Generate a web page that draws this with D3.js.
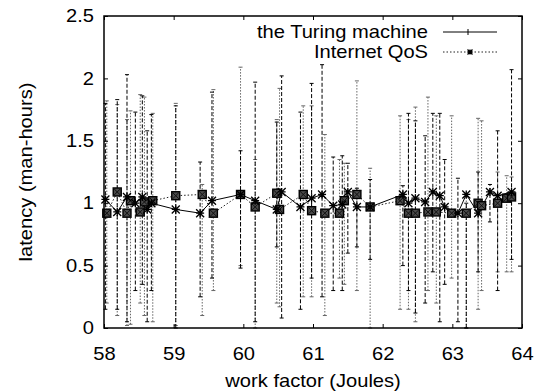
<!DOCTYPE html>
<meta charset="utf-8">
<style>
body { margin: 0; background: white; font-family: 'Liberation Sans', Arial, sans-serif; }
.lbl { font-size: 17.5px; fill: black; transform-box: fill-box; transform: scaleX(1.15); }
.ctr { transform-origin: center; }
.rgt { transform-origin: right center; }
.ttl { font-size: 17.5px; fill: black; }
</style>
<body>
<script src="https://cdn.jsdelivr.net/npm/d3@7"></script>
<script>
// series 1: the Turing machine
var tmX  = [58.02,58.19,58.33,58.45,58.55,58.62,58.68,59.03,59.38,59.55,59.96,60.17,60.48,60.55,60.82,60.98,61.13,61.29,61.42,61.50,61.63,61.82,62.29,62.37,62.47,62.61,62.72,62.82,62.89,63.08,63.20,63.37,63.54,63.65,63.85];
var tmY  = [1.03,0.93,1.05,1.00,1.05,0.95,1.00,0.95,0.92,1.02,1.07,1.02,0.95,1.09,0.97,1.04,1.07,0.98,0.99,1.09,0.97,0.97,1.07,1.00,1.04,1.01,1.09,1.06,0.97,0.92,1.07,0.92,1.09,1.06,1.09];
var tmLo = [0.15,0.15,0.05,0.30,0.35,0.05,0.30,0.00,0.25,0.40,0.48,0.05,0.65,0.08,0.15,0.40,0.25,0.30,0.30,0.60,0.65,0.55,0.50,0.30,0.12,0.20,0.45,0.05,0.35,0.05,0.00,0.45,0.85,0.30,0.55];
var tmHi = [1.80,1.83,2.03,1.73,1.86,1.58,1.71,1.78,1.33,1.89,1.42,1.97,1.65,2.02,1.73,1.96,2.11,1.37,1.38,1.32,1.12,1.19,1.14,1.72,1.66,1.54,1.72,1.72,1.35,1.20,1.00,1.25,1.15,1.58,2.07];

// series 2: Internet QoS
var qsX  = [58.04,58.19,58.33,58.38,58.52,58.58,58.70,59.03,59.41,59.57,59.96,60.17,60.48,60.52,60.86,60.98,61.17,61.38,61.45,61.63,61.82,62.25,62.37,62.47,62.65,62.77,62.99,63.20,63.37,63.42,63.65,63.78,63.85];
var qsY  = [0.92,1.09,0.92,1.02,0.93,1.01,1.02,1.06,1.07,0.92,1.07,0.97,1.08,0.95,1.07,0.94,0.92,0.92,1.02,1.07,0.97,1.02,0.92,0.92,0.93,0.93,0.92,0.92,1.00,0.98,1.00,1.04,1.05];
var qsLo = [0.20,0.10,0.02,0.03,0.20,0.10,0.05,0.02,0.10,0.30,0.50,0.00,0.20,0.17,0.25,0.25,0.10,0.40,0.35,0.30,0.00,0.15,0.15,0.05,0.30,0.20,0.40,0.00,0.15,0.30,0.45,0.45,0.45];
var qsHi = [1.82,1.79,1.67,1.74,1.87,1.85,1.72,1.80,1.15,1.91,2.09,1.35,1.67,1.92,1.78,1.78,1.55,1.35,1.32,1.98,1.28,1.70,1.67,1.77,1.85,1.70,1.70,1.05,1.68,1.66,1.25,1.22,1.21];

var xTicks = [58,59,60,61,62,63,64];
var yTicks = [0,0.5,1,1.5,2,2.5];
var seriesNames = ["the Turing machine","Internet QoS"];

var W = 538, H = 391;
var margin = { top: 16, right: 16, bottom: 63, left: 104 };
var width = W - margin.left - margin.right,
    height = H - margin.top - margin.bottom;

var svg = d3.select("body").append("svg")
  .attr("width", W).attr("height", H);
var g = svg.append("g")
  .attr("transform", "translate(" + margin.left + "," + margin.top + ")");

var x = d3.scaleLinear().domain([58, 64]).range([0, width]);
var y = d3.scaleLinear().domain([0, 2.5]).range([height, 0]);

function rows(xs, ys, lo, hi) {
  return xs.map((d, i) => ({ x: d, y: ys[i], lo: lo[i], hi: hi[i] }));
}
var s1 = rows(tmX, tmY, tmLo, tmHi);
var s2 = rows(qsX, qsY, qsLo, qsHi);

// error bars
function errbars(data, cls, color, dash) {
  var e = g.append("g").attr("class", cls)
    .attr("stroke", color).attr("stroke-width", 1).attr("fill", "none");
  e.selectAll("line.v").data(data).enter().append("line")
    .attr("x1", d => x(d.x)).attr("x2", d => x(d.x))
    .attr("y1", d => y(d.lo)).attr("y2", d => y(d.hi))
    .attr("stroke-dasharray", dash);
  e.selectAll("line.lo").data(data).enter().append("line")
    .attr("x1", d => x(d.x) - 2).attr("x2", d => x(d.x) + 2)
    .attr("y1", d => y(d.lo)).attr("y2", d => y(d.lo));
  e.selectAll("line.hi").data(data).enter().append("line")
    .attr("x1", d => x(d.x) - 2).attr("x2", d => x(d.x) + 2)
    .attr("y1", d => y(d.hi)).attr("y2", d => y(d.hi));
}
errbars(s2, "err2", "#666", "1.5,1.5");
errbars(s1, "err1", "#000", "4,2");

var line = d3.line().x(d => x(d.x)).y(d => y(d.y));
g.append("path").datum(s2).attr("d", line)
  .attr("fill", "none").attr("stroke", "#222").attr("stroke-width", 1)
  .attr("stroke-dasharray", "1.5,2");
g.append("path").datum(s1).attr("d", line)
  .attr("fill", "none").attr("stroke", "#000").attr("stroke-width", 1);

// markers
function star(sel, r) {
  sel.append("path")
    .attr("d", "M" + -r + ",0H" + r + "M0," + -r + "V" + r +
               "M" + -r + "," + -r + "L" + r + "," + r + "M" + -r + "," + r + "L" + r + "," + -r)
    .attr("stroke", "#000").attr("stroke-width", 1.3).attr("fill", "none");
}
function boxmark(sel, r) {
  sel.append("rect").attr("x", -r).attr("y", -r).attr("width", 2 * r).attr("height", 2 * r)
    .attr("fill", "#4a4a4a").attr("stroke", "#000").attr("stroke-width", 1.4);
  sel.append("path")
    .attr("d", "M" + -r + "," + -r + "L" + r + "," + r + "M" + -r + "," + r + "L" + r + "," + -r)
    .attr("stroke", "#111").attr("stroke-width", 1);
}
g.selectAll("g.p2").data(s2).enter().append("g")
  .attr("transform", d => "translate(" + x(d.x) + "," + y(d.y) + ")")
  .call(boxmark, 4);
g.selectAll("g.p1").data(s1).enter().append("g")
  .attr("transform", d => "translate(" + x(d.x) + "," + y(d.y) + ")")
  .call(star, 4);

// frame and ticks (inward, mirrored)
g.append("rect").attr("width", width).attr("height", height)
  .attr("fill", "none").attr("stroke", "#000").attr("stroke-width", 1.5);

var fmt = d => String(d);
var ax = g.append("g").attr("transform", "translate(0," + height + ")")
  .call(d3.axisBottom(x).tickValues(xTicks).tickSize(-4).tickPadding(16).tickFormat(fmt));
var axTop = g.append("g")
  .call(d3.axisTop(x).tickValues(xTicks).tickSize(-4).tickFormat(""));
var ay = g.append("g")
  .call(d3.axisLeft(y).tickValues(yTicks).tickSize(-4).tickPadding(10).tickFormat(fmt));
var ayR = g.append("g").attr("transform", "translate(" + width + ",0)")
  .call(d3.axisRight(y).tickValues(yTicks).tickSize(-4).tickFormat(""));
[ax, axTop, ay, ayR].forEach(a => {
  a.select(".domain").remove();
  a.selectAll(".tick line").attr("stroke", "#000").attr("stroke-width", 1);
  a.attr("font-family", null).attr("font-size", null);
});
ax.selectAll(".tick text").attr("class", "lbl ctr").attr("dy", "0.9em");
ay.selectAll(".tick text").attr("class", "lbl rgt");

// axis titles
svg.append("text").attr("class", "lbl ctr")
  .attr("x", margin.left + width / 2).attr("y", 387)
  .attr("text-anchor", "middle").text("work factor (Joules)");
svg.append("text").attr("class", "ttl")
  .attr("transform", "translate(32," + (margin.top + height / 2) + ") rotate(-90) scale(1.15,1)")
  .attr("text-anchor", "middle").text("latency (man-hours)");

// legend
var leg = svg.append("g");
var legY = [32, 52];
leg.append("text").attr("class", "lbl rgt").attr("x", 428).attr("y", legY[0] + 6)
  .attr("text-anchor", "end").text(seriesNames[0]);
leg.append("text").attr("class", "lbl rgt").attr("x", 428).attr("y", legY[1] + 6)
  .attr("text-anchor", "end").text(seriesNames[1]);
leg.append("line").attr("x1", 443).attr("x2", 497).attr("y1", legY[0]).attr("y2", legY[0])
  .attr("stroke", "#000");
leg.append("path").attr("d", "M468,29V35").attr("stroke", "#000");
leg.append("line").attr("x1", 443).attr("x2", 497).attr("y1", legY[1]).attr("y2", legY[1])
  .attr("stroke", "#222").attr("stroke-dasharray", "1.5,2");
leg.append("g").attr("transform", "translate(470," + legY[1] + ")").call(star, 2.5);
</script>
</body>
